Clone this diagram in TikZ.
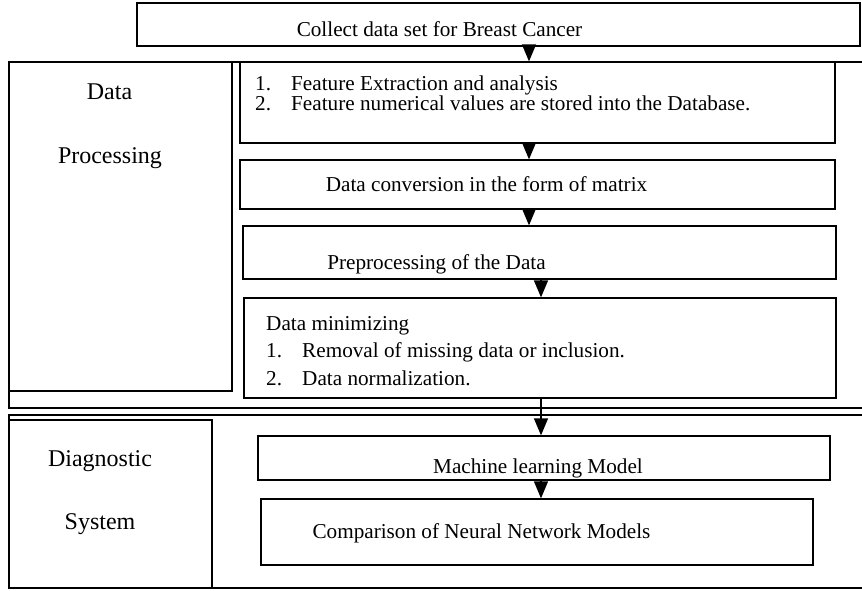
\documentclass[tikz,border=0pt]{standalone}
\usepackage{fontspec}
\setmainfont{Liberation Serif}
\usetikzlibrary{arrows.meta}
\begin{document}
\begin{tikzpicture}[x=1pt,y=-1pt,
  box/.style={draw,line width=1.3pt,inner sep=0pt,rectangle},
  lbl/.style={font=\fontsize{21.2}{25}\selectfont,inner sep=0pt},
  side/.style={font=\fontsize{24}{28}\selectfont,inner sep=0pt},
  arr/.style={line width=1.3pt,-{Triangle[width=14pt,length=17pt]}}]
\useasboundingbox (0,0) rectangle (862,590);
\clip (0,0) rectangle (862,590);
% boxes
\node[box,minimum width=723pt,minimum height=43pt] (top) at (498.5,24.5) {};
\node[box,minimum width=862pt,minimum height=346pt] (dpo) at (440,235) {};
\node[box,minimum width=223pt,minimum height=329pt] (dpl) at (120.5,226.5) {};
\node[box,minimum width=595pt,minimum height=81pt] (feat) at (537.5,102.5) {};
\node[box,minimum width=595pt,minimum height=49pt] (conv) at (537.5,184.5) {};
\node[box,minimum width=593pt,minimum height=53pt] (prep) at (539.5,252.5) {};
\node[box,minimum width=592pt,minimum height=100pt] (mini) at (540,348) {};
\node[box,minimum width=862pt,minimum height=173pt] (dgo) at (440,501.5) {};
\node[box,minimum width=203pt,minimum height=168pt] (dgl) at (110.5,504) {};
\node[box,minimum width=572pt,minimum height=44pt] (ml) at (544,458) {};
\node[box,minimum width=552pt,minimum height=66pt] (comp) at (537,532) {};
% texts
\node[lbl,anchor=base] (t0) at (439.5,36) {Collect data set for Breast Cancer};
\node[lbl,anchor=base west] (f1n) at (255,90) {1.};
\node[lbl,anchor=base west] (f1) at (291,90) {Feature Extraction and analysis};
\node[lbl,anchor=base west] (f2n) at (255,110) {2.};
\node[lbl,anchor=base west] (f2) at (291,110) {Feature numerical values are stored into the Database.};
\node[lbl,anchor=base] (t2) at (486.5,191) {Data conversion in the form of matrix};
\node[lbl,anchor=base] (t3) at (436.5,269) {Preprocessing of the Data};
\node[lbl,anchor=base west] (m0) at (266,330) {Data minimizing};
\node[lbl,anchor=base west] (m1n) at (266,357) {1.};
\node[lbl,anchor=base west] (m1) at (302,357) {Removal of missing data or inclusion.};
\node[lbl,anchor=base west] (m2n) at (266,385) {2.};
\node[lbl,anchor=base west] (m2) at (302,385) {Data normalization.};
\node[side,anchor=base] (l1) at (109.5,99) {Data};
\node[side,anchor=base] (l2) at (110,163) {Processing};
\node[side,anchor=base] (l3) at (100,466) {Diagnostic};
\node[side,anchor=base] (l4) at (100,529) {System};
\node[lbl,anchor=base] (t5) at (538,473) {Machine learning Model};
\node[lbl,anchor=base] (t6) at (481.5,538) {Comparison of Neural Network Models};
% arrows
\draw[arr] (top.south -| 529,0) -- (feat.north -| 529,0);
\draw[arr] (feat.south -| 529,0) -- (conv.north -| 529,0);
\draw[arr] (conv.south -| 529,0) -- (prep.north -| 529,0);
\draw[arr] (prep.south -| 541,0) -- (mini.north -| 541,0);
\draw[arr] (mini.south -| 541,0) -- (ml.north -| 541,0);
\draw[arr] (ml.south -| 541,0) -- (comp.north -| 541,0);
\end{tikzpicture}
\end{document}
